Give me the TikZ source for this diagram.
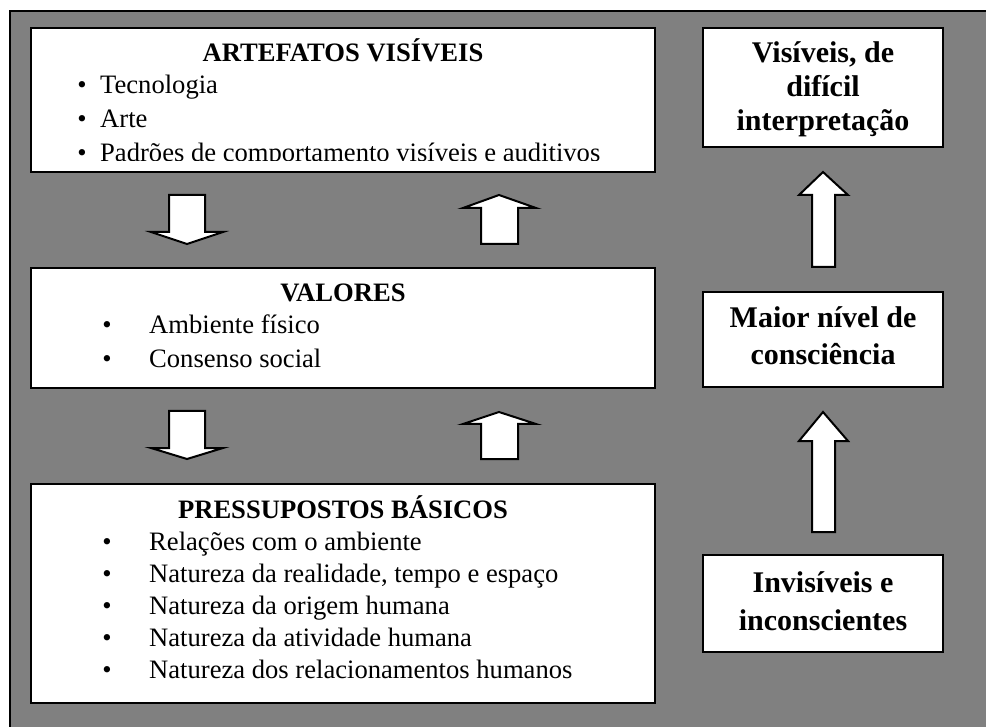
\documentclass[tikz,border=0pt]{standalone}
\usepackage{fontspec}
\setmainfont{Liberation Serif}
\definecolor{bggray}{RGB}{128,128,128}
\begin{document}
\begin{tikzpicture}[x=1pt,y=-1pt,
  box/.style={draw=black, line width=2pt, fill=white, inner sep=0pt},
  blkarrow/.style={draw=black, line width=2pt, fill=white, line join=miter},
  body/.style={inner sep=0pt, anchor=base west, font=\fontsize{26.6}{30}\selectfont},
  bul/.style={inner sep=0pt, anchor=base, font=\fontsize{26.6}{30}\selectfont},
  ttl/.style={inner sep=0pt, anchor=base, font=\fontsize{26.6}{30}\selectfont\bfseries},
  rtxt/.style={inner sep=0pt, anchor=base, font=\fontsize{30}{34}\selectfont\bfseries}]
\useasboundingbox (0,0) rectangle (986,727);
% background panel
\draw[line width=2pt, fill=bggray] (10,11) rectangle (1010,750);

% left boxes
\node[box, minimum width=624pt, minimum height=144pt] (art) at (343,100) {};
\node[box, minimum width=624pt, minimum height=120pt] (val) at (343,328) {};
\node[box, minimum width=624pt, minimum height=219pt] (pre) at (343,593.5) {};

% right boxes
\node[box, minimum width=240pt, minimum height=119pt] (vis) at (823,87.5) {};
\node[box, minimum width=240pt, minimum height=95pt] (mai) at (823,339.5) {};
\node[box, minimum width=240pt, minimum height=97pt] (inv) at (823,603.5) {};

% ARTEFATOS VISIVEIS
\node[ttl] (artT) at (343,62) {ARTEFATOS VISÍVEIS};
\node[bul] (artB1) at (82,94) {•};
\node[body] (artL1) at (100,94) {Tecnologia};
\node[bul] (artB2) at (82,128) {•};
\node[body] (artL2) at (100,128) {Arte};
\begin{scope}
  \clip (31,28) rectangle (655,161);
  \node[bul] (artB3) at (82,162) {•};
  \node[body] (artL3) at (100,162) {Padrões de comportamento visíveis e auditivos};
\end{scope}

% VALORES
\node[ttl] (valT) at (343,302) {VALORES};
\node[bul] (valB1) at (107,334) {•};
\node[body] (valL1) at (149,334) {Ambiente físico};
\node[bul] (valB2) at (107,368) {•};
\node[body] (valL2) at (149,368) {Consenso social};

% PRESSUPOSTOS BASICOS
\node[ttl] (preT) at (343,518) {PRESSUPOSTOS BÁSICOS};
\node[bul] (preB1) at (107,550) {•};
\node[body] (preL1) at (149,550) {Relações com o ambiente};
\node[bul] (preB2) at (107,582) {•};
\node[body] (preL2) at (149,582) {Natureza da realidade, tempo e espaço};
\node[bul] (preB3) at (107,614) {•};
\node[body] (preL3) at (149,614) {Natureza da origem humana};
\node[bul] (preB4) at (107,646) {•};
\node[body] (preL4) at (149,646) {Natureza da atividade humana};
\node[bul] (preB5) at (107,678) {•};
\node[body] (preL5) at (149,678) {Natureza dos relacionamentos humanos};

% right texts
\node[rtxt] (visT1) at (823,63) {Visíveis, de};
\node[rtxt] (visT2) at (823,97) {difícil};
\node[rtxt] (visT3) at (823,131) {interpretação};
\node[rtxt] (maiT1) at (823,328) {Maior nível de};
\node[rtxt] (maiT2) at (823,365) {consciência};
\node[rtxt] (invT1) at (823,592) {Invisíveis e};
\node[rtxt] (invT2) at (823,630) {inconscientes};

% block arrows, left column
\draw[blkarrow] (169,195) -- (205,195) -- (205,232) -- (223,232) -- (187,244) -- (151,232) -- (169,232) -- cycle;
\draw[blkarrow] (169,411) -- (205,411) -- (205,448) -- (223,448) -- (187,459) -- (151,448) -- (169,448) -- cycle;
\draw[blkarrow] (481,244) -- (518,244) -- (518,208) -- (536,208) -- (499,195) -- (463,208) -- (481,208) -- cycle;
\draw[blkarrow] (481,459) -- (518,459) -- (518,424) -- (536,424) -- (499,412) -- (463,424) -- (481,424) -- cycle;

% block arrows, right column
\draw[blkarrow] (812,267) -- (835,267) -- (835,195) -- (848,195) -- (823,172) -- (799,195) -- (812,195) -- cycle;
\draw[blkarrow] (812,532) -- (835,532) -- (835,441) -- (848,441) -- (823,412) -- (799,441) -- (812,441) -- cycle;
\end{tikzpicture}
\end{document}
